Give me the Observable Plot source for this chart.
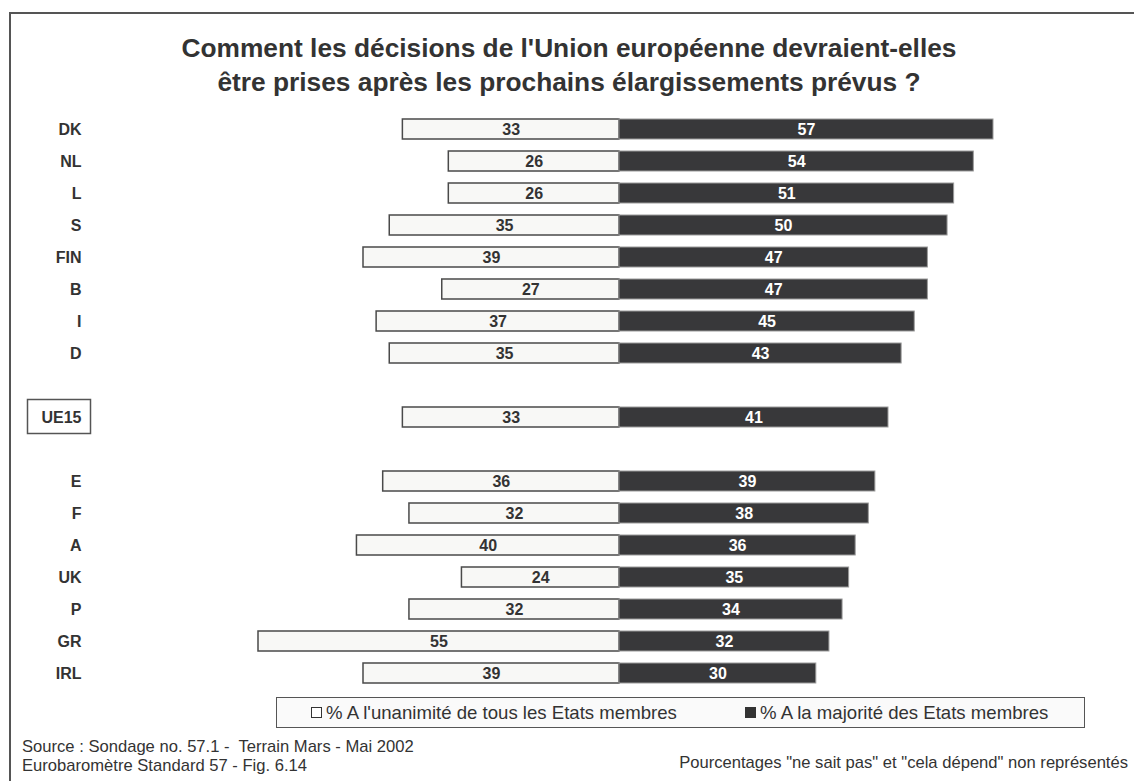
<!DOCTYPE html>
<html>
<head>
<meta charset="utf-8">
<script src="https://cdn.jsdelivr.net/npm/d3@7"></script>
<script src="https://cdn.jsdelivr.net/npm/@observablehq/plot@0.6"></script>
<style>
  html, body { margin: 0; padding: 0; background: #fff; }
  #wrap { position: relative; width: 1134px; height: 781px; overflow: hidden; font-family: "Liberation Sans", Arial, sans-serif; color: #333; }
  #frame { position: absolute; left: 9px; top: 12px; width: 1200px; height: 900px; border-top: 2px solid #555; border-left: 2px solid #555; box-sizing: border-box; }
  #chart { position: absolute; left: 0; top: 0; }
  #title { position: absolute; left: 0; width: 1138px; top: 31px; text-align: center; font-size: 26.3px; line-height: 34px; font-weight: bold; color: #333; }
  #legend { position: absolute; left: 276px; top: 697px; width: 809px; height: 31px; border: 1px solid #555; background: #fafafa; box-sizing: border-box; }
  .leg { position: absolute; top: 4px; font-size: 18.6px; line-height: 22px; color: #333; white-space: pre; }
  .sq { display: inline-block; width: 9px; height: 9px; border: 1px solid #333; margin-right: 4px; vertical-align: 1px; }
  .foot { position: absolute; font-size: 16.6px; line-height: 19px; color: #333; white-space: pre; }
</style>
</head>
<body>
<div id="wrap">
  <div id="frame"></div>
  <div id="chart"></div>
  <div id="title">Comment les décisions de l'Union européenne devraient-elles<br>être prises après les prochains élargissements prévus ?</div>
  <div id="legend">
    <span class="leg" style="left:34px"><span class="sq" style="background:#fff"></span>% A l'unanimité de tous les Etats membres</span>
    <span class="leg" style="left:468px"><span class="sq" style="background:#333"></span>% A la majorité des Etats membres</span>
  </div>
  <div class="foot" style="left:22px; top:737px">Source : Sondage no. 57.1 -  Terrain Mars - Mai 2002<br>Eurobaromètre Standard 57 - Fig. 6.14</div>
  <div class="foot" style="right:6px; top:753px">Pourcentages "ne sait pas" et "cela dépend" non représentés</div>
</div>
<script>
// Data
const countries = ["DK","NL","L","S","FIN","B","I","D","UE15","E","F","A","UK","P","GR","IRL"];
const unanimite = [33,26,26,35,39,27,37,35,33,36,32,40,24,32,55,39];
const majorite  = [57,54,51,50,47,47,45,43,41,39,38,36,35,34,32,30];

// Row order with empty slots around UE15
const rowOrder = ["DK","NL","L","S","FIN","B","I","D","_gap1","UE15","_gap2","E","F","A","UK","P","GR","IRL"];

const data = countries.map((c, i) => ({country: c, unan: unanimite[i], maj: majorite[i]}));

const chart = Plot.plot({
  width: 1134,
  height: 781,
  marginLeft: 258,
  marginRight: 141,
  marginTop: 102.6,
  marginBottom: 82.6,
  style: {fontFamily: "Liberation Sans, Arial, sans-serif", background: "transparent", color: "#333"},
  x: {domain: [-55, 57], axis: null},
  y: {domain: rowOrder, padding: 0.383, axis: null},
  marks: [
    Plot.barX(data, {y: "country", x1: d => -d.unan, x2: 0, fill: "#f8f8f6", stroke: "#4a4a4a", strokeWidth: 1.5}),
    Plot.barX(data, {y: "country", x1: 0, x2: "maj", fill: "#38383a", stroke: "#9a9a9a", strokeWidth: 1}),
    Plot.text(data, {y: "country", x: d => -d.unan / 2, text: d => String(d.unan), fill: "#333", fontWeight: "bold", fontSize: 16}),
    Plot.text(data, {y: "country", x: d => d.maj / 2, text: d => String(d.maj), fill: "#fff", fontWeight: "bold", fontSize: 16}),
    Plot.axisY({tickSize: 0, tickPadding: 177, fontSize: 16, fontWeight: "bold", label: null, tickFormat: d => d.startsWith("_") ? "" : d, fill: "#333"})
  ]
});

document.getElementById("chart").appendChild(chart);

// Box around the UE15 label
const ys = chart.scale("y");
const yc = ys.apply("UE15") + ys.bandwidth / 2;
d3.select(chart).append("rect")
  .attr("x", 27.5).attr("y", yc - 17.5)
  .attr("width", 63).attr("height", 34)
  .attr("fill", "none").attr("stroke", "#555").attr("stroke-width", 1.5);
</script>
</body>
</html>
